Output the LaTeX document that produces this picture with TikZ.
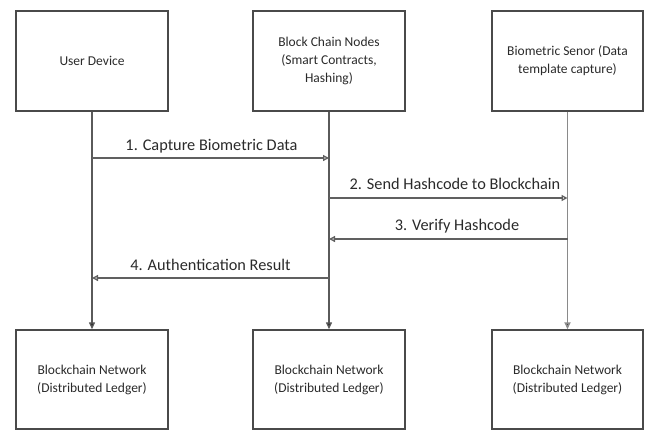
\documentclass[tikz,border=0pt]{standalone}
\usepackage{fontspec}
\setmainfont{Carlito}
\usetikzlibrary{arrows.meta}
\definecolor{boxline}{HTML}{4A4A4A}
\definecolor{msgline}{HTML}{606060}
\definecolor{lifeline}{HTML}{5A5A5A}
\definecolor{lifelight}{HTML}{8A8A8A}
\definecolor{txt}{HTML}{2A2A2A}
\tikzset{
  box/.style={draw=boxline, line width=1.4pt, minimum width=152pt, minimum height=100pt,
    inner sep=0pt, align=center, text=txt, font=\fontsize{13.5}{18}\selectfont},
  life/.style={draw=lifeline, line width=1.3pt, -{Triangle[length=7pt,width=6pt,fill=black!85]}},
  msg/.style={draw=msgline, line width=1.3pt, -{Triangle[open,length=6pt,width=6pt]}},
  lbl/.style={text=txt, font=\fontsize{16.3}{19}\selectfont, inner sep=0pt}
}
\begin{document}
\begin{tikzpicture}[x=1pt,y=-1pt]
\useasboundingbox (0,0) rectangle (649,431);
% top boxes
\node[box] (u)  at (92,61)    {User Device};
\node[box] (bc) at (329,61)   {Block Chain Nodes\\(Smart Contracts,\\Hashing)};
\node[box, minimum width=151pt] (bs) at (567.5,61) {Biometric Senor (Data\\template capture)};
% bottom boxes
\node[box, minimum height=99pt] (n1) at (92,379.5)  {Blockchain Network\\(Distributed Ledger)};
\node[box, minimum height=99pt] (n2) at (329,379.5) {Blockchain Network\\(Distributed Ledger)};
\node[box, minimum height=99pt, minimum width=151pt] (n3) at (567.5,379.5) {Blockchain Network\\(Distributed Ledger)};
% lifelines
\draw[life] (u.south) -- (n1.north);
\draw[life] (bc.south) -- (n2.north);
\draw[life, draw=lifelight, line width=1.6pt] (bs.south) -- (n3.north);
% message end points on lifelines
\coordinate (a1) at (92,158);  \coordinate (b1) at (329,158);
\coordinate (b2) at (329,198); \coordinate (c2) at (567.5,198);
\coordinate (c3) at (567.5,239); \coordinate (b3) at (329,239);
\coordinate (b4) at (329,278); \coordinate (a4) at (92,278);
% messages
\draw[msg] (a1) -- (b1);
\draw[msg] (b2) -- (c2);
\draw[msg] (c3) -- (b3);
\draw[msg] (b4) -- (a4);
% labels
\node[lbl] (l1) at (211.5,146) {1. Capture Biometric Data};
\node[lbl] (l2) at (455,184) {2. Send Hashcode to Blockchain};
\node[lbl] (l3) at (457,226) {3. Verify Hashcode};
\node[lbl] (l4) at (210.5,265) {4. Authentication Result};
\end{tikzpicture}
\end{document}
